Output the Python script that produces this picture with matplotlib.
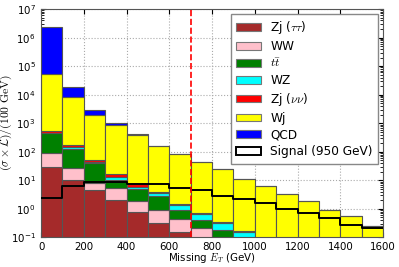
import numpy as np
import matplotlib
matplotlib.use("Agg")
import matplotlib.pyplot as plt
from matplotlib.patches import Patch
from matplotlib.ticker import NullFormatter

plt.rcParams['mathtext.fontset'] = 'cm'
plt.rcParams['font.family'] = ['DejaVu Sans']

bin_edges = [0, 100, 200, 300, 400, 500, 600, 700, 800, 900, 1000,
             1100, 1200, 1300, 1400, 1500, 1600]

zj_tautau = [30, 10, 4.5, 2.05, 0.77, 0.31, 0.15, 0.07, 0.03, 0.01,
             0.005, 0.003, 0.002, 0.001, 0.001, 0.001]
ww = [57, 16, 3.5, 3.15, 1.18, 0.6, 0.29, 0.14, 0.05, 0.02,
      0.01, 0.005, 0.003, 0.002, 0.001, 0.001]
ttbar = [353, 104, 31, 4.8, 2.95, 1.8, 0.47, 0.19, 0.1, 0.05,
         0.02, 0.01, 0.005, 0.003, 0.002, 0.001]
wz = [30, 15, 4, 3.5, 1.1, 0.8, 0.44, 0.25, 0.13, 0.07,
      0.03, 0.015, 0.01, 0.005, 0.003, 0.002]
zj_nunu = [50, 30, 7, 3.5, 1.2, 0.3, 0.1, 0.05, 0.04, 0.02,
           0.01, 0.005, 0.003, 0.002, 0.001, 0.001]
wj = [51480, 8325, 1900, 853, 383, 156, 80, 42, 25, 11,
      6, 3.2, 1.9, 0.86, 0.53, 0.24]
qcd = [2.25e6, 9500, 950, 130, 30, 5, 0, 0, 0, 0,
       0, 0, 0, 0, 0, 0]
signal = [2.35, 6.3, 8.9, 9.0, 7.4, 7.4, 5.5, 4.4, 2.8, 2.2,
          1.6, 0.96, 0.69, 0.46, 0.27, 0.22]

labels = [r"Zj ($\tau\tau$)", "WW", r"$t\bar{t}$", "WZ", r"Zj ($\nu\nu$)",
          "Wj", "QCD"]
colors = ["#a52a2a", "#ffc0cb", "#008000", "#00ffff", "#ff0000",
          "#ffff00", "#0000ff"]
series = [zj_tautau, ww, ttbar, wz, zj_nunu, wj, qcd]

edges = np.array(bin_edges, dtype=float)
lefts = edges[:-1]
widths = np.diff(edges)

fig = plt.figure(figsize=(3.99, 2.67), dpi=100)
ax = fig.add_axes([0.103, 0.111, 0.857, 0.855])

bottom = np.full(len(lefts), 1e-3)
for vals, col, lab in zip(series, colors, labels):
    v = np.array(vals, dtype=float)
    ax.bar(lefts, v, width=widths, bottom=bottom, align='edge', color=col,
           edgecolor='#555555', linewidth=0.8, label=lab, zorder=2)
    bottom = bottom + v

sig = np.array(signal, dtype=float)
ax.step(edges, np.append(sig, sig[-1]), where='post', color='black',
        linewidth=1.4, zorder=3)
ax.axvline(700, color='red', linestyle='--', linewidth=1.2, zorder=4)

ax.set_yscale('log')
ax.set_ylim(0.1, 1e7)
ax.set_xlim(0, 1600)
ax.set_xticks(np.arange(0, 1601, 200))
ax.yaxis.set_minor_formatter(NullFormatter())
ax.grid(True, which='major', linestyle=':', color='#aaaaaa', linewidth=0.8, zorder=0)
ax.set_axisbelow(True)
ax.tick_params(which='both', direction='in', top=True, right=True, labelsize=7.4)
ax.tick_params(axis='x', pad=3)
ax.tick_params(axis='y', pad=4)
for s in ax.spines.values():
    s.set_color('#555555')

ax.set_xlabel(r"Missing $E_T$ (GeV)", fontsize=7.4)
ax.xaxis.set_label_coords(0.5, -0.06)
ax.set_ylabel(r"$(\sigma\times\mathcal{L})/(100\ \mathrm{GeV})$", fontsize=8.4)
ax.yaxis.set_label_coords(-0.078, 0.5)

handles = [Patch(facecolor=c, edgecolor='#777777', linewidth=0.8) for c in colors]
handles.append(Patch(facecolor='white', edgecolor='black', linewidth=1.4))
ax.legend(handles, labels + ["Signal (950 GeV)"], loc='upper right', fontsize=8.7,
          frameon=True, fancybox=False, edgecolor='#888888', framealpha=1,
          handlelength=2.0, handleheight=0.6, labelspacing=0.32,
          handletextpad=0.8, borderpad=0.45, borderaxespad=0.4)

fig.savefig("out.png", dpi=100)
